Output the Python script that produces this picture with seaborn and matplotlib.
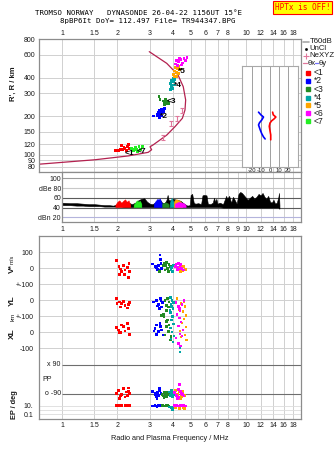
import matplotlib
matplotlib.use("Agg")
import matplotlib.pyplot as plt
from matplotlib.ticker import NullLocator
import numpy as np
import pandas as pd
import seaborn as sns

# ---------------- data ----------------
title_line1 = "TROMSO NORWAY   DYNASONDE 26-04-22 1156UT 15\u00b0E"
title_line2 = "8pBP6It DoY= 112.497 File= TR944347.BPG"
status_text = "HPTx is OFF!"

freq_ticks = [1, 1.5, 2, 3, 4, 5, 6, 7, 8, 10, 12, 14, 16, 18]
freq_labels = ["1", "1.5", "2", "3", "4", "5", "6", "7", "8", "10", "12", "14", "16", "18"]
noise_freq_ticks = [1, 1.5, 2, 3, 4, 5, 6, 7, 8, 9, 10, 12, 14, 16, 18]
noise_freq_labels = ["1", "1.5", "2", "3", "4", "5", "6", "7", "8", "9", "10", "12", "14", "16", "18"]
grid_freqs = [1, 1.5, 2, 3, 4, 5, 6, 7, 8, 9, 10, 12, 14, 16, 18]
height_ticks = [80, 90, 100, 120, 150, 200, 300, 400, 600, 800]
height_labels = ["80", "90", "100", "120", "150", "200", "300", "400", "600", "800"]

class_ids = ["1", "2", "3", "4", "5", "6", "7"]
class_names = ["<1", "*2", "<3", "*4", "*5", "<6", "<7"]
class_colors = ["#ff0000", "#0000ff", "#228b22", "#00a5a5", "#ffa500", "#ff00ff", "#22ee22"]

# echo traces (frequency MHz, virtual height km)
echo1_f = [1.96, 1.99, 2.04, 2.11, 2.13, 2.20, 2.25, 2.26, 2.29, 2.32, 2.08, 2.17]
echo1_h = [107, 108, 107, 118, 110, 112, 108, 116, 120, 111, 109, 114]
echo2_f = [3.13, 3.30, 3.35, 3.40, 3.45, 3.50, 3.38, 3.55, 3.60, 3.42, 3.28, 3.50, 3.46, 3.33]
echo2_h = [200, 205, 215, 222, 210, 200, 195, 218, 230, 205, 200, 212, 225, 208]
echo3_f = [3.37, 3.41, 3.55, 3.60, 3.65, 3.70, 3.75, 3.62, 3.68, 3.58, 3.80]
echo3_h = [283, 270, 262, 255, 268, 250, 258, 245, 262, 250, 252]
echo4_f = [3.88, 3.92, 3.95, 4.00, 4.05, 3.90, 4.02, 4.10, 3.97, 4.08]
echo4_h = [360, 340, 380, 330, 370, 322, 395, 350, 350, 385]
echo5_f = [4.05, 4.10, 4.15, 4.20, 4.25, 4.30, 4.10, 4.35, 4.18, 4.28]
echo5_h = [420, 450, 480, 440, 470, 430, 405, 460, 410, 490]
echo6_f = [4.15, 4.20, 4.30, 4.40, 4.50, 4.60, 4.70, 4.25, 4.45, 4.35, 4.78]
echo6_h = [510, 540, 530, 550, 520, 565, 545, 495, 500, 560, 575]
echo7_f = [2.38, 2.45, 2.50, 2.55, 2.62, 2.68, 2.73, 2.58, 2.42]
echo7_h = [111, 107, 113, 109, 115, 110, 116, 106, 109]

echo_label_text = ["<1", "<7", "*2", "<3", "*4", "*5"]
echo_label_f = [2.20, 2.55, 3.41, 3.71, 4.08, 4.29]
echo_label_h = [102, 105, 198, 259, 345, 444]

# electron density profile (plasma frequency, real height)
ne_f = [0.75, 1.51, 2.29, 2.94, 3.07, 3.01, 3.13, 3.41, 3.71, 4.11, 4.51, 4.66, 4.70, 4.56, 4.27, 3.71, 2.98]
ne_h = [84, 91, 97.5, 104, 109, 115, 119, 130, 142, 165, 192, 223, 267, 339, 419, 516, 637]
nexyz_f = [3.53, 3.91, 4.20, 4.51]
nexyz_h = [135, 175, 192, 223]
nexyz_err = [6, 8, 9, 10]

# tilt profiles (deg, km)
thx_t = [2.9, 3.6, 6.5, 4.3, 1.8, 0.0, -0.8, 0.0, 0.8, 0.8]
thx_h = [214, 204, 196, 189, 183, 176, 166, 153, 142, 130]
thy_t = [-12.7, -10.1, -7.2, -9.1, -11.6, -12.7, -10.9, -9.1, -7.2, -5.4]
thy_h = [214, 204, 196, 186, 177, 170, 156, 145, 137, 132]
tilt_ticks = [-20, -10, 0, 10, 20]

# noise spectrum (dB)
noise_f = [1.00, 1.10, 1.20, 1.30, 1.40, 1.50, 1.60, 1.70, 1.80, 1.90,
           2.00, 2.10, 2.20, 2.30, 2.40, 2.50, 2.60, 2.70, 2.80, 2.90,
           3.00, 3.10, 3.20, 3.30, 3.40, 3.50, 3.60, 3.65, 3.70, 3.75,
           3.80, 3.90, 4.00, 4.20, 4.40, 4.60, 4.80, 4.95, 5.00, 5.10,
           5.20, 5.30, 5.50, 5.70, 5.80, 5.90, 6.10, 6.20, 6.40, 6.60,
           6.70, 6.80, 6.90, 7.00, 7.20, 7.50, 7.80, 7.90, 8.10, 8.30,
           8.50, 8.70, 8.90, 9.10, 9.30, 9.50, 9.70, 9.90, 10.2, 10.5,
           10.8, 11.1, 11.4, 11.7, 12.0, 12.3, 12.6, 12.9, 13.2, 13.5,
           13.8, 14.1, 14.4, 14.7, 15.0, 15.1, 15.2]
noise_hi = [50, 49, 49, 48, 47, 47, 46, 45, 45, 44,
            47, 49, 52, 50, 47, 50, 55, 58, 59, 52,
            48, 47, 50, 55, 57, 50, 49, 52, 56, 66,
            55, 55, 58, 56, 54, 48, 44, 45, 66, 68,
            50, 48, 49, 47, 65, 66, 65, 48, 47, 50,
            60, 52, 58, 48, 50, 47, 64, 58, 64, 50,
            62, 55, 48, 68, 72, 70, 66, 62, 56, 60,
            64, 58, 62, 68, 65, 70, 62, 58, 64, 52,
            50, 56, 48, 50, 62, 70, 45]
noise_lo = [45, 45, 44, 44, 43, 43, 43, 42, 42, 42,
            42, 42, 41, 41, 41, 41, 41, 41, 41, 41,
            41, 41, 41, 41, 41, 41, 41, 41, 41, 41,
            41, 41, 41, 41, 41, 41, 41, 41, 41, 41,
            41, 41, 41, 41, 41, 41, 41, 41, 41, 41,
            41, 41, 41, 41, 41, 40, 40, 40, 40, 40,
            40, 40, 40, 40, 40, 40, 40, 40, 40, 40,
            40, 40, 40, 40, 40, 40, 40, 40, 40, 40,
            40, 40, 40, 40, 40, 38, 38]
noise_floor = 41
noise_col = {
    "1": ([1.95, 2.00, 2.05, 2.10, 2.15, 2.20, 2.25, 2.30, 2.35], [46, 52, 55, 50, 54, 57, 52, 55, 46]),
    "7": ([2.45, 2.50, 2.55, 2.60, 2.65, 2.70], [46, 50, 55, 52, 54, 48]),
    "2": ([3.15, 3.20, 3.25, 3.30, 3.35, 3.40, 3.45, 3.50], [47, 52, 55, 58, 56, 59, 53, 48]),
    "3": ([3.50, 3.55, 3.60, 3.65, 3.70, 3.75, 3.80], [48, 50, 49, 51, 50, 49, 47]),
    "4": ([3.85, 3.90, 3.95, 4.00, 4.05], [50, 56, 60, 55, 50]),
    "5": ([4.05, 4.10, 4.20, 4.30, 4.40, 4.50], [52, 56, 57, 55, 53, 48]),
    "6": ([4.10, 4.20, 4.30, 4.40, 4.50, 4.60, 4.70], [48, 50, 52, 51, 50, 49, 45]),
}
noise_ticks = [100, 80, 60, 40, 20]
noise_tick_labels = ["100", "dBe 80", "60", "40", "dBn 20"]
noise_grid_colors = ["#9a9a9a", "#c8c8c8", "#5a5a5a", "#5a5a5a", "#b4b4dc"]

# lower panel: velocity (m/s), YL (km), XL (km), polarisation (deg), EP (deg)
vel_pts = {
    "1": [(1.98, 48), (2.04, 10), (2.07, -4), (2.11, -21), (2.05, -38), (2.15, 16), (2.20, -11),
          (2.27, 4), (2.31, 31), (2.32, -21), (2.29, -56), (2.18, -38)],
    "2": [(3.41, 83), (3.11, 27), (3.27, 4), (3.34, 16), (3.45, 31), (3.48, 0), (3.38, -10),
          (3.43, 56), (3.22, 10), (3.30, -5)],
    "3": [(3.58, 31), (3.67, 16), (3.73, 0), (3.63, -10), (3.82, 25), (3.78, -21), (3.40, -21),
          (3.89, 10), (3.55, 20), (3.70, 35)],
    "4": [(3.95, 4), (4.00, -21), (3.91, -10), (4.02, 16), (3.97, -18), (3.93, 8)],
    "5": [(4.30, 5), (4.45, -5), (4.55, -15), (4.60, 10), (4.40, -20), (4.70, -5), (4.50, 12)],
    "6": [(4.17, 25), (4.29, 31), (4.38, 16), (4.23, 4), (4.47, 0), (4.56, -10), (4.34, -4),
          (4.11, 10), (4.40, 22), (4.25, -6)],
}
yl_pts = {
    "1": [(1.97, 10), (2.05, -10), (2.11, -21), (2.15, -6), (2.20, -31), (2.26, -48), (2.32, -15),
          (2.07, -42), (1.99, -21), (2.30, -25)],
    "2": [(3.14, -10), (3.27, 0), (3.34, -27), (3.43, 10), (3.48, -42), (3.52, -15), (3.38, -52),
          (3.29, -35), (3.45, -5)],
    "3": [(3.63, 0), (3.71, -31), (3.78, -42), (3.68, -62), (3.48, -94), (3.55, -90), (3.82, -10), (3.73, 10)],
    "4": [(3.89, 19), (3.96, 0), (3.91, -25), (4.01, -50), (3.88, -75), (3.98, -100), (3.93, -40),
          (4.04, -12), (3.86, -60)],
    "5": [(4.22, 12), (4.43, -19), (4.66, -37), (4.54, -69), (4.72, -94), (4.33, -56), (4.60, -10)],
    "6": [(4.17, -12), (4.28, -37), (4.38, -62), (4.49, -25), (4.60, 0), (4.22, -87), (4.33, -50)],
}
xl_pts = {
    "1": [(1.97, 29), (2.02, 14), (2.07, 0), (2.15, 35), (2.20, 8), (2.26, 56), (2.29, 25),
          (2.32, -13), (2.11, 46), (2.05, 0)],
    "2": [(3.20, 25), (3.27, 46), (3.34, 4), (3.41, 56), (3.48, 14), (3.55, -17), (3.27, -13),
          (3.16, 8), (3.43, 35)],
    "3": [(3.58, 98), (3.73, 77), (3.68, 35), (3.82, 46), (3.78, 4), (3.91, -27), (3.63, -17),
          (3.87, -48), (3.71, 66)],
    "4": [(3.93, 77), (4.02, 52), (3.89, 27), (3.96, 2), (4.06, -23), (3.91, -42), (4.01, -61),
          (4.38, -98), (4.38, -123)],
    "5": [(4.60, 83), (4.49, 58), (4.72, 33), (4.38, 8), (4.66, -17), (4.77, -48), (4.43, -29)],
    "6": [(4.33, 89), (4.43, 64), (4.28, 39), (4.54, 14), (4.38, -11), (4.17, -36), (4.49, -23),
          (4.29, -69), (4.40, -86)],
}
pp_pts = {
    "1": [(1.98, -88), (2.03, -70), (2.07, -105), (2.11, -95), (2.15, -60), (2.20, -112),
          (2.25, -80), (2.29, -55), (2.32, -92), (2.05, -120), (2.27, -100), (2.29, -75)],
    "2": [(3.10, -75), (3.20, -95), (3.25, -110), (3.30, -85), (3.35, -100), (3.40, -70),
          (3.45, -90), (3.28, -120), (3.38, -60), (3.22, -88)],
    "3": [(3.50, -95), (3.55, -105), (3.60, -85), (3.65, -100), (3.70, -110), (3.75, -90),
          (3.80, -95), (3.58, -115), (3.68, -80)],
    "4": [(3.85, -80), (3.90, -100), (3.95, -90), (4.00, -110), (4.05, -95), (3.92, -70)],
    "5": [(4.15, -70), (4.25, -95), (4.35, -80), (4.45, -110), (4.55, -90), (4.65, -100),
          (4.50, -75), (4.40, -120)],
    "6": [(4.10, -85), (4.20, -100), (4.30, -115), (4.40, -75), (4.50, -95), (4.60, -105),
          (4.25, -120), (4.35, -35), (4.45, -90), (4.28, -65)],
}
ep_pts = {
    "1": [(1.98, 10), (2.02, 10), (2.06, 11), (2.10, 10), (2.20, 10), (2.24, 9), (2.28, 10), (2.32, 10)],
    "2": [(3.10, 9), (3.20, 10), (3.28, 8), (3.35, 10), (3.42, 9), (3.48, 11)],
    "3": [(3.52, 10), (3.60, 9), (3.68, 10), (3.75, 11), (3.82, 9)],
    "4": [(3.85, 5), (3.92, 4), (3.98, 2), (4.04, 3), (4.00, 1.5)],
    "5": [(4.15, 3), (4.35, 2), (4.55, 4), (4.65, 2.5)],
    "6": [(4.10, 10), (4.20, 11), (4.30, 9), (4.40, 10), (4.50, 12), (4.60, 10), (4.70, 9)],
}
vel_ticks = [100, 0, -100]
vel_tick_labels = ["100", "0", "+-100"]
yl_ticks = [0, -100]
yl_tick_labels = ["0", "+-100"]
xl_ticks = [0, -100]
xl_tick_labels = ["0", "-100"]
pp_levels = [90, -90]
pp_level_labels = ["x 90", "o -90"]
ep_ticks = [10, 0.1]
ep_tick_labels = ["10.", "0.1"]
ep_grid = [10, 1, 0.1]

# composite layout of the lower panel (row offsets in axis units)
VEL_OFF, YL_OFF, XL_OFF, PP_OFF = 0, -200, -400, -693
EP_BASE, EP_SCALE = -885, 26


def ep_to_y(v):
    return EP_BASE + EP_SCALE * np.log10(v)


# ---------------- figure ----------------
sns.set_style("white")
plt.rcParams["font.family"] = ["Liberation Sans", "DejaVu Sans"]
palette = dict(zip(class_ids, class_colors))

W, H = 335, 451
fig = plt.figure(figsize=(W / 100, H / 100), dpi=100)
fig.patch.set_facecolor("white")


def rect(x0, y0, x1, y1):
    return [x0 / W, 1 - y1 / H, (x1 - x0) / W, (y1 - y0) / H]


def fx(x):
    return x / W


def fy(y):
    return 1 - y / H


GRID = "#d0d0d0"
FRAME = "#8c8c8c"
TXT = "#1a1a1a"
TFS = 5.0
NE_COL = "#b3214f"
NEXYZ_COL = "#e0789c"


def frame(ax):
    for s in ax.spines.values():
        s.set_color(FRAME)
        s.set_linewidth(0.9)


# ---- top ionogram panel ----
ax_top = fig.add_axes(rect(39, 39, 301, 172))
ax_top.set_xscale("log")
ax_top.set_yscale("log")
ax_top.set_xlim(0.75, 19.9)
ax_top.set_ylim(73, 800)
ax_top.set_xticks(freq_ticks, labels=freq_labels)
ax_top.set_yticks(height_ticks, labels=height_labels)
ax_top.xaxis.set_minor_locator(NullLocator())
ax_top.yaxis.set_minor_locator(NullLocator())
ax_top.xaxis.tick_top()
ax_top.tick_params(axis="both", length=0, labelsize=TFS, labelcolor=TXT)
ax_top.tick_params(axis="x", pad=1.5)
ax_top.tick_params(axis="y", pad=2.6)
ax_top.grid(True, color=GRID, lw=0.7)
ax_top.set_axisbelow(True)
frame(ax_top)

echo_df = pd.concat([
    pd.DataFrame({"f": f, "h": h, "cls": c})
    for c, f, h in zip(class_ids,
                       [echo1_f, echo2_f, echo3_f, echo4_f, echo5_f, echo6_f, echo7_f],
                       [echo1_h, echo2_h, echo3_h, echo4_h, echo5_h, echo6_h, echo7_h])
], ignore_index=True)
sns.lineplot(x=ne_f, y=ne_h, sort=False, estimator=None, color=NE_COL, lw=0.9, ax=ax_top)
sns.scatterplot(data=echo_df, x="f", y="h", hue="cls", hue_order=class_ids, palette=palette,
                marker="s", s=4, linewidth=0, legend=False, ax=ax_top, zorder=3)
ax_top.errorbar(nexyz_f, nexyz_h, yerr=nexyz_err, fmt="none", ecolor=NEXYZ_COL,
                elinewidth=0.8, capsize=1.3, capthick=0.8, zorder=4)
for t, f, h in zip(echo_label_text, echo_label_f, echo_label_h):
    ax_top.text(f, h, t, fontsize=6, fontweight="bold", color="black", ha="left", va="center", zorder=5)
ax_top.set_xlabel("")
ax_top.set_ylabel("")

# ---- tilt inset ----
ax_tilt = fig.add_axes(rect(242, 66, 298, 167))
ax_tilt.set_facecolor("white")
ax_tilt.set_yscale("log")
ax_tilt.set_xlim(-31, 31)
ax_tilt.set_ylim(79.6, 492)
ax_tilt.set_xticks(tilt_ticks, labels=[str(t) for t in tilt_ticks])
ax_tilt.set_yticks([])
ax_tilt.yaxis.set_minor_locator(NullLocator())
ax_tilt.tick_params(axis="x", length=0, labelsize=4.2, pad=1, labelcolor=TXT)
for t in tilt_ticks:
    ax_tilt.axvline(t, color="#a0a0a0", lw=0.7, zorder=0)
sns.lineplot(x=thx_t, y=thx_h, sort=False, estimator=None, color="#ff0000", lw=1.2, ax=ax_tilt)
sns.lineplot(x=thy_t, y=thy_h, sort=False, estimator=None, color="#0000ff", lw=1.2, ax=ax_tilt)
ax_tilt.set_xlabel("Tilt / deg", fontsize=4.2, labelpad=0.3, color=TXT)
ax_tilt.set_ylabel("")
for s in ax_tilt.spines.values():
    s.set_color("#a8a8a8")
    s.set_linewidth(0.8)

# ---- noise panel ----
ax_n = fig.add_axes(rect(62, 172, 301, 222))
ax_n.set_xscale("log")
ax_n.set_xlim(1, 19.9)
ax_n.set_ylim(10.4, 113)
ax_n.set_xticks(noise_freq_ticks, labels=noise_freq_labels)
ax_n.xaxis.set_minor_locator(NullLocator())
ax_n.set_yticks(noise_ticks, labels=noise_tick_labels)
ax_n.tick_params(axis="both", length=0, labelsize=TFS, labelcolor=TXT)
ax_n.tick_params(axis="x", pad=2.7)
ax_n.tick_params(axis="y", pad=0.8)
for f in grid_freqs:
    ax_n.axvline(f, color=GRID, lw=0.7, zorder=0)
for v, c in zip(noise_ticks, noise_grid_colors):
    ax_n.axhline(v, color=c, lw=0.8, zorder=0)
ax_n.fill_between(noise_f, noise_lo, noise_hi, color="black", lw=0.4, zorder=2)
for c in ["1", "7", "2", "3", "4", "5", "6"]:
    f, hi = noise_col[c]
    ax_n.fill_between(f, noise_floor, hi, color=palette[c], lw=0.3, zorder=3)
frame(ax_n)

# ---- lower panel ----
ax_l = fig.add_axes(rect(39, 236, 301, 419))
ax_l.set_xscale("log")
ax_l.set_xlim(0.75, 19.9)
ax_l.set_ylim(-942, 202)
ax_l.set_xticks(freq_ticks, labels=freq_labels)
ax_l.xaxis.set_minor_locator(NullLocator())
ytick_pos = ([v + VEL_OFF for v in vel_ticks] + [v + YL_OFF for v in yl_ticks]
             + [v + XL_OFF for v in xl_ticks] + [ep_to_y(v) for v in ep_ticks])
ytick_lab = vel_tick_labels + yl_tick_labels + xl_tick_labels + ep_tick_labels
ax_l.set_yticks(ytick_pos, labels=ytick_lab)
ax_l.tick_params(axis="both", length=0, labelsize=TFS, labelcolor=TXT)
ax_l.tick_params(axis="x", pad=2.4)
ax_l.tick_params(axis="y", pad=4.0)
for f in grid_freqs:
    ax_l.axvline(f, color=GRID, lw=0.7, zorder=0)
for y in ytick_pos[:-2]:
    ax_l.axhline(y, color=GRID, lw=0.7, zorder=0)
for v in ep_grid:
    ax_l.axhline(ep_to_y(v), color="#dcdcdc", lw=0.6, zorder=0)
for v, lab in zip(pp_levels, pp_level_labels):
    ax_l.hlines(v + PP_OFF, 1, 19.9, color="#6e6e6e", lw=0.8, zorder=1)
    ax_l.text(0.985, v + PP_OFF, lab, ha="right", va="center", fontsize=TFS, color=TXT)
ax_l.text(0.785, -698, "PP", ha="left", va="center", fontsize=TFS, color=TXT)

rows = []
for pts, off in [(vel_pts, VEL_OFF), (yl_pts, YL_OFF), (xl_pts, XL_OFF), (pp_pts, PP_OFF)]:
    for c, lst in pts.items():
        for f, v in lst:
            rows.append((f, v + off, c))
for c, lst in ep_pts.items():
    for f, v in lst:
        rows.append((f, ep_to_y(v), c))
low_df = pd.DataFrame(rows, columns=["f", "y", "cls"])
sns.scatterplot(data=low_df, x="f", y="y", hue="cls", hue_order=class_ids, palette=palette,
                marker="s", s=4, linewidth=0, legend=False, ax=ax_l, zorder=3)
ax_l.set_xlabel("")
ax_l.set_ylabel("")
frame(ax_l)

# ---- legend column ----
ax_g = fig.add_axes(rect(301, 34, 335, 127))
ax_g.set_xlim(301, 335)
ax_g.set_ylim(127, 34)
ax_g.axis("off")
LFS = 5.6
ax_g.plot([302.5, 308.5], [41.7, 41.7], color="#a8a8a8", lw=1.2)
ax_g.text(309.5, 41.7, "T60dB", va="center", fontsize=LFS, color=TXT)
ax_g.plot([305.7], [49], marker="s", ms=0.9, color="black", lw=0)
ax_g.text(309.5, 49, "UnCl", va="center", fontsize=LFS, color=TXT)
ax_g.plot([306], [55.7], marker="+", ms=4, mew=0.8, color=NEXYZ_COL, lw=0)
ax_g.text(309.5, 55.7, "NeXYZ", va="center", fontsize=LFS, color=TXT)
ax_g.plot([302.5, 306.7], [63.3, 63.3], color=NEXYZ_COL, lw=0.9)
ax_g.text(307.2, 63.3, "\u03b8x", va="center", fontsize=LFS, color=TXT)
ax_g.plot([314.8, 318.3], [63.3, 63.3], color="#7070ff", lw=0.9)
ax_g.text(318.6, 63.3, "\u03b8y", va="center", fontsize=LFS, color=TXT)
legend_y = [72.7, 80.5, 89, 97.5, 105.3, 113.3, 121.3]
for c, name, y in zip(class_ids, class_names, legend_y):
    ax_g.plot([307.7], [y], marker="s", ms=2.6, color=palette[c], lw=0)
    ax_g.text(313.5, y, name, va="center", fontsize=6.2, color=TXT)

# ---- texts ----
MONO = "DejaVu Sans Mono"
fig.text(fx(35), fy(14.6), title_line1, family=MONO, fontsize=5.3, ha="left", va="baseline", color="black")
fig.text(fx(60), fy(23.2), title_line2, family=MONO, fontsize=5.3, ha="left", va="baseline", color="black")
fig.text(fx(302.5), fy(7.3), status_text, family=MONO, fontsize=5.6, ha="center", va="center",
         color="#ff0000", bbox=dict(facecolor="#ffff00", edgecolor="#ff0000", lw=0.8, pad=1.3))

fig.text(fx(13), fy(84), "R', R / km", rotation=90, ha="center", va="center", fontsize=5.5,
         fontweight="bold", color=TXT)
fig.text(fx(12), fy(269), "V*", rotation=90, ha="center", va="center", fontsize=6, fontweight="bold", color=TXT)
fig.text(fx(12.5), fy(259.5), "m/s", rotation=90, ha="center", va="center", fontsize=4.2, color=TXT)
fig.text(fx(12), fy(301), "YL", rotation=90, ha="center", va="center", fontsize=6, fontweight="bold", color=TXT)
fig.text(fx(13), fy(316.5), "km", rotation=90, ha="center", va="center", fontsize=4.5, color=TXT)
fig.text(fx(12), fy(334), "XL", rotation=90, ha="center", va="center", fontsize=6, fontweight="bold", color=TXT)
fig.text(fx(15), fy(405), "EP / deg", rotation=90, ha="center", va="center", fontsize=5.3,
         fontweight="bold", color=TXT)
fig.text(fx(170), fy(439), "Radio and Plasma Frequency / MHz", ha="center", va="center",
         fontsize=5.3, color=TXT)

fig.savefig("out.png", dpi=100)
